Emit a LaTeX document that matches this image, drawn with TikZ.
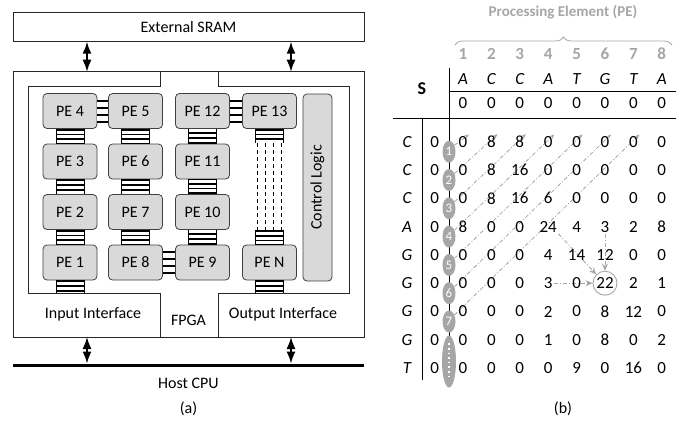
\documentclass[tikz,border=0pt]{standalone}
\usepackage{fontspec}
\setmainfont{Carlito}
\usetikzlibrary{arrows.meta,decorations.pathreplacing,shapes.geometric}
\definecolor{pefill}{HTML}{D9D9D9}
\definecolor{lgray}{HTML}{A6A6A6}
\pgfdeclarelayer{bg}
\pgfsetlayers{bg,main}
\newcommand\lfont{\fontsize{16}{19}\selectfont}
\newcommand\tfont{\fontsize{17}{20}\selectfont}
\newcommand\hlink[2]{%
  \fill[black] ([yshift=-11.5pt]#1.east) rectangle ([yshift=11.5pt]#2.west);
  \foreach \s in {-7,0,7}{\fill[white] ([yshift=\s pt-2.5pt]#1.east) rectangle ([yshift=\s pt+2.5pt]#2.west);}%
}
\begin{document}
\begin{tikzpicture}[x=1pt,y=-1pt,
  frame/.style={draw=black!85, line width=0.9pt},
  pebox/.style={draw=black!75, fill=pefill, rounded corners=4pt, minimum width=54pt, minimum height=35pt, inner sep=0pt, font=\lfont, line width=0.8pt},
  vlink/.style={line width=29pt, draw=black, postaction={draw=white, line width=27pt, dash pattern=on 3pt off 1.75pt, dash phase=3pt}},
  bidir/.style={{Latex[length=12pt,width=9pt]}-{Latex[length=12pt,width=9pt]}, line width=1.6pt},
  lbl/.style={font=\lfont, inner sep=1pt},
  cell/.style={font=\tfont, inner sep=1.5pt},
  ell/.style={ellipse, fill=lgray, minimum width=13pt, minimum height=22pt, inner sep=0pt, text=white, font=\fontsize{13}{14}\selectfont},
  diag/.style={draw=lgray, line width=0.8pt, dash pattern=on 4pt off 2pt on 1pt off 2pt, -{Stealth[length=5pt,width=4pt]}},
  toward/.style={draw=lgray, line width=0.9pt, dash pattern=on 4pt off 2pt on 1pt off 2pt, -{Stealth[length=7pt,width=6pt]}},
  tline/.style={draw=black, line width=0.9pt},
]
\useasboundingbox (0,0) rectangle (689,424);

% ---------------- (a) ----------------
\node[frame, minimum width=351pt, minimum height=29pt, inner sep=0pt, outer sep=0pt, font=\lfont] (sram) at (188.5,27.2) {External SRAM};
\node[frame, minimum width=351pt, minimum height=265.3pt, inner sep=0pt, outer sep=0pt] (fpga) at (188.5,204.35) {};
\draw[frame] (160,71.7) -- (160,86) -- (28,86) -- (28,293) -- (160,293) -- (160,337);
\draw[frame] (218,71.7) -- (218,86) -- (349,86) -- (349,293) -- (218,293) -- (218,337);

\coordinate (a1) at (87,0);
\coordinate (a2) at (291,0);
\coordinate (hl) at (13,365);
\coordinate (hr) at (364,365);
\coordinate (inb) at (0,293);
\draw[line width=3pt] (hl) -- (hr);
\draw[bidir] (a1 |- sram.south) -- (a1 |- fpga.north);
\draw[bidir] (a2 |- sram.south) -- (a2 |- fpga.north);
\draw[bidir] (a1 |- fpga.south) -- ([yshift=1.5pt]a1 |- hl);
\draw[bidir] (a2 |- fpga.south) -- ([yshift=1.5pt]a2 |- hl);

\node[lbl] (inif) at (93,314) {Input Interface};
\node[lbl] (outif) at (283,314) {Output Interface};
\node[lbl] (fpgat) at (188.5,320) {FPGA};
\node[lbl] (host) at (188.5,383) {Host CPU};
\node[lbl] (capa) at (188.5,409) {(a)};

\node[pebox] (pe4) at (70,111) {PE 4};
\node[pebox] (pe5) at (135.5,111) {PE 5};
\node[pebox] (pe12) at (202.5,111) {PE 12};
\node[pebox] (pe13) at (269.5,111) {PE 13};
\node[pebox] (pe3) at (70,161.5) {PE 3};
\node[pebox] (pe6) at (135.5,161.5) {PE 6};
\node[pebox] (pe11) at (202.5,161.5) {PE 11};
\node[pebox] (pe2) at (70,212) {PE 2};
\node[pebox] (pe7) at (135.5,212) {PE 7};
\node[pebox] (pe10) at (202.5,212) {PE 10};
\node[pebox] (pe1) at (70,262.5) {PE 1};
\node[pebox] (pe8) at (135.5,262.5) {PE 8};
\node[pebox] (pe9) at (202.5,262.5) {PE 9};
\node[pebox] (peN) at (269.5,262.5) {PE N};
\node[pebox, minimum width=187pt, minimum height=29pt, rotate=90] (ctrl) at (317.5,187.5) {Control Logic};

\draw[vlink] (pe4.south) -- (pe3.north);
\draw[vlink] (pe3.south) -- (pe2.north);
\draw[vlink] (pe2.south) -- (pe1.north);
\draw[vlink] (pe5.south) -- (pe6.north);
\draw[vlink] (pe6.south) -- (pe7.north);
\draw[vlink] (pe7.south) -- (pe8.north);
\draw[vlink] (pe9.north) -- (pe10.south);
\draw[vlink] (pe10.north) -- (pe11.south);
\draw[vlink] (pe11.north) -- (pe12.south);
\draw[vlink] (pe1.south) -- (pe1.south |- inb);
\draw[vlink] (peN.south) -- (peN.south |- inb);
\coordinate (s13) at (269.5,143);
\coordinate (sN) at (269.5,230);
\draw[vlink] (pe13.south) -- (s13);
\draw[vlink] (sN) -- (peN.north);
\foreach \dx in {-12,-4,4,12}{\draw[black, line width=0.8pt, dash pattern=on 4pt off 3pt] ([xshift=\dx pt]s13) -- ([xshift=\dx pt]sN);}
\hlink{pe4}{pe5}
\hlink{pe8}{pe9}
\hlink{pe12}{pe13}

% ---------------- (b) ----------------
\node[font=\fontsize{15}{18}\selectfont\bfseries, text=lgray] (pet) at (563,12) {Processing Element (PE)};
\draw[lgray, line width=0.8pt, decorate, decoration={brace, amplitude=8pt}] (455,45) -- (672,45);
\foreach \l [count=\c] in {A,C,C,A,T,G,T,A}{
  \node[font=\tfont\bfseries, text=lgray, inner sep=1pt] (n\c) at ({463+28.4*(\c-1)},54) {\c};
  \node[cell, font=\tfont\itshape] (h\c) at ({463+28.4*(\c-1)},79) {\l};
  \node[cell] (z\c) at ({463+28.4*(\c-1)},103) {0};
}
\node[font=\fontsize{18}{20}\selectfont\bfseries] (S) at (422,89) {S};
\draw[tline] (449,68) -- (449,382);
\draw[tline] (449,91) -- (676,91);
\draw[tline] (393,118) -- (676,118);
\draw[tline] (422,118) -- (422,380);

\foreach \r/\lab/\vals in {1/C/{0,8,8,0,0,0,0,0},2/C/{0,8,16,0,0,0,0,0},3/C/{0,8,16,6,0,0,0,0},4/A/{8,0,0,24,4,3,2,8},5/G/{0,0,0,4,14,12,0,0},6/G/{0,0,0,3,0,22,2,1},7/G/{0,0,0,2,0,8,12,0},8/G/{0,0,0,1,0,8,0,2},9/T/{0,0,0,0,9,0,16,0}}{
  \node[cell, font=\tfont\itshape] (r\r) at (407,{141.7+28.3*(\r-1)}) {\lab};
  \node[cell] (c\r-0) at (434.6,{141.7+28.3*(\r-1)}) {0};
  \foreach \v [count=\c] in \vals {
    \node[cell] (c\r-\c) at ({463+28.4*(\c-1)},{141.7+28.3*(\r-1)}) {\v};
  }
}
\foreach \k in {1,...,7}{
  \node[ell] (e\k) at (449,{151.7+28.3*(\k-1)}) {\k};
}
\node[ell, minimum width=14pt, minimum height=52pt] (e8) at (449,361.5) {};
\draw[white, line width=1.6pt, dash pattern=on 1.6pt off 3pt] ([yshift=-8pt]e8.north) -- ([yshift=8pt]e8.south);

\node[draw=lgray, circle, minimum size=24pt, line width=0.9pt, inner sep=0pt] (circ) at (c6-6) {};

\begin{pgfonlayer}{bg}
\foreach \k in {1,...,7}{\draw[diag] (e\k.50) -- (c1-\k.north east);}
\draw[toward] (c4-4.south east) -- (circ.135);
\draw[toward] (c4-6.south) -- (circ.north);
\draw[toward] (c6-4.east) -- (circ.west);
\end{pgfonlayer}

\node[lbl] (capb) at (563,409) {(b)};
\end{tikzpicture}
\end{document}
